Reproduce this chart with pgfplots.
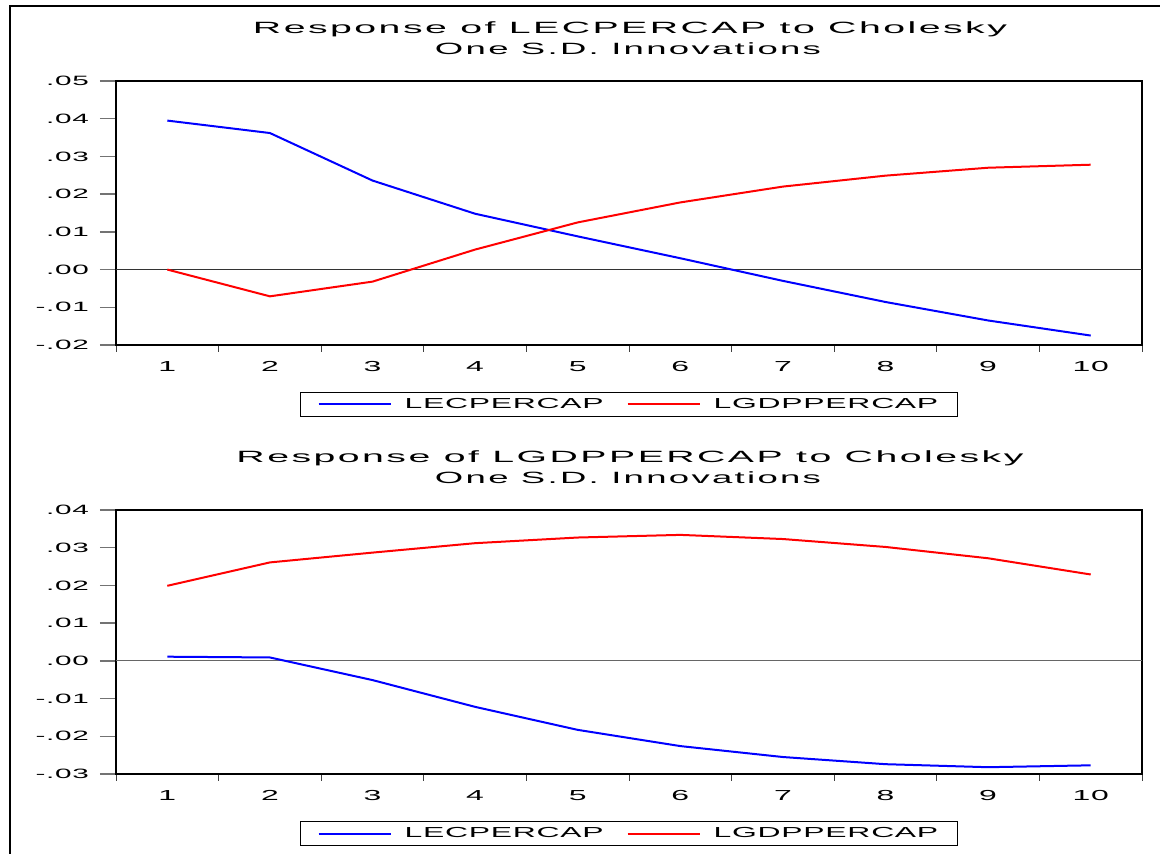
\documentclass[border=0pt]{standalone}
\usepackage{pgfplots}
\pgfplotsset{compat=1.18}
\usepackage{fontspec}
\setmainfont{Liberation Sans}
% EViews look: wide, letter-spaced Arial
\newfontfamily\ev{Liberation Sans}[FakeStretch=2.2,LetterSpace=5]
\newfontfamily\evt{Liberation Sans}[FakeStretch=1.9,LetterSpace=12]
\newcommand\evs[1]{\ev\fontsize{#1bp}{#1bp}\selectfont}
\newcommand\evts{\evt\fontsize{16.3bp}{16.3bp}\selectfont}
\definecolor{evblue}{RGB}{0,0,255}
\definecolor{evred}{RGB}{255,0,0}

\pgfplotsset{
  irf/.style={
    scale only axis, width=1026bp, height=264bp,
    anchor=south west,
    xmin=0.5, xmax=10.5,
    xtick={1,...,10}, minor xtick={0.5,1.5,...,10.5},
    xtick pos=bottom, ytick pos=left,
    tick align=outside,
    major tick length=16bp, minor tick length=7bp,
    every major tick/.append style={black!55, line width=1.5bp},
    every minor tick/.append style={black!75, line width=1bp},
    major x tick style={draw=none},
    scaled y ticks=false,
    /pgf/number format/assume math mode=true,
    axis line style={line width=1.5bp},
    yticklabel style={font=\evs{13.5}, inner sep=0pt, xshift=-11bp},
    xticklabel style={font=\evs{14.5}, inner sep=0pt},
    legend columns=2,
    legend style={at={(0.5,-0.2254)}, anchor=center, draw=black, line width=1.5bp,
      font=\evs{14.5}, inner xsep=17bp, inner ysep=4bp,
      /tikz/every odd column/.append style={column sep=11bp},
      /tikz/every even column/.append style={column sep=21bp}},
    legend image code/.code={\draw[##1, line width=2bp] (0bp,0bp) -- (72bp,0bp);},
  },
}

\begin{document}
\begin{tikzpicture}[x=1bp,y=1bp]
\useasboundingbox (0,0) rectangle (1160,854);
\draw[line width=2bp] (10,-5) -- (10,848) -- (1170,848);

% top panel
\node[anchor=base] at (630,820) {\resizebox{754bp}{\height}{\evts Response of LECPERCAP to Cholesky}};
\node[anchor=base] at (628,799) {\resizebox{386bp}{\height}{\evts One S.D. Innovations}};
\begin{axis}[irf, at={(116bp,509bp)},
  ymin=-0.02, ymax=0.05,
  ytick={-0.02,-0.01,0,0.01,0.02,0.03,0.04,0.05},
  yticklabels={-.02,-.01,.00,.01,.02,.03,.04,.05}]
\addplot[black!80, line width=1bp, forget plot] coordinates {(0.5,0) (10.5,0)};
\addplot[evblue, line width=2bp] coordinates {
  (1,0.0395) (2,0.0362) (3,0.0236) (4,0.0148) (5,0.0088)
  (6,0.0030) (7,-0.0030) (8,-0.0086) (9,-0.0135) (10,-0.0175)};
\addplot[evred, line width=2bp] coordinates {
  (1,0.0000) (2,-0.0071) (3,-0.0032) (4,0.0053) (5,0.0125)
  (6,0.0178) (7,0.0220) (8,0.0249) (9,0.0270) (10,0.0278)};
\legend{LECPERCAP, LGDPPERCAP}
\end{axis}

% bottom panel
\node[anchor=base] at (630,391) {\resizebox{787bp}{\height}{\evts Response of LGDPPERCAP to Cholesky}};
\node[anchor=base] at (628,370) {\resizebox{386bp}{\height}{\evts One S.D. Innovations}};
\begin{axis}[irf, at={(116bp,80bp)},
  ymin=-0.03, ymax=0.04,
  ytick={-0.03,-0.02,-0.01,0,0.01,0.02,0.03,0.04},
  yticklabels={-.03,-.02,-.01,.00,.01,.02,.03,.04}]
\addplot[black!60, line width=1bp, forget plot] coordinates {(0.5,0) (10.5,0)};
\addplot[evblue, line width=2bp] coordinates {
  (1,0.0011) (2,0.0009) (3,-0.0051) (4,-0.0122) (5,-0.0183)
  (6,-0.0226) (7,-0.0255) (8,-0.0274) (9,-0.0282) (10,-0.0277)};
\addplot[evred, line width=2bp] coordinates {
  (1,0.0199) (2,0.0261) (3,0.0287) (4,0.0312) (5,0.0327)
  (6,0.0334) (7,0.0323) (8,0.0302) (9,0.0272) (10,0.0229)};
\legend{LECPERCAP, LGDPPERCAP}
\end{axis}
\end{tikzpicture}
\end{document}
